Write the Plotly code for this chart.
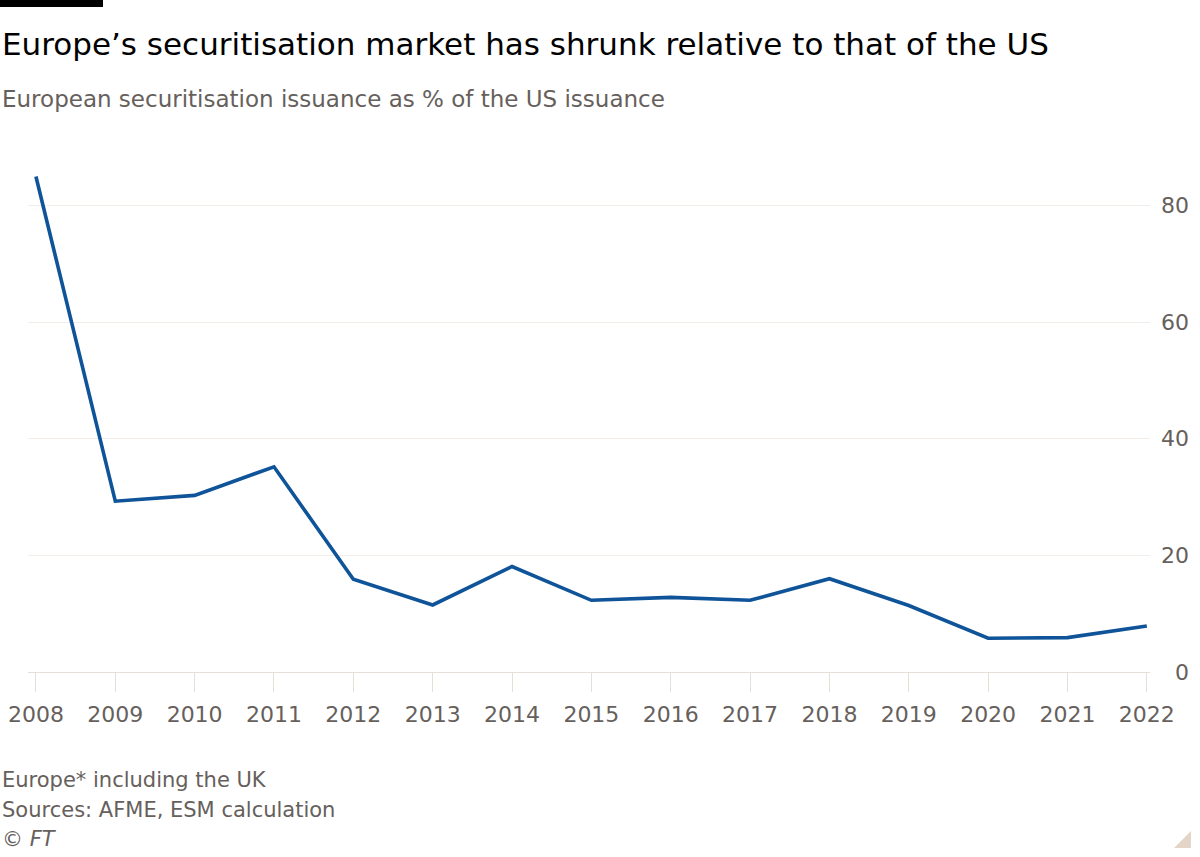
import plotly.graph_objects as go

years = list(range(2008, 2023))
share = [85.0, 29.3, 30.3, 35.2, 15.9, 11.5, 18.1, 12.3, 12.8, 12.3, 16.0, 11.4, 5.8, 5.9, 7.9]
y_ticks = [0, 20, 40, 60, 80]

TITLE = "Europe’s securitisation market has shrunk relative to that of the US"
SUBTITLE = "European securitisation issuance as % of the US issuance"
FOOT = ["Europe* including the UK", "Sources: AFME, ESM calculation"]
CREDIT = "© FT"

W, H = 1200, 857
L, R, T, B = 28, 1150, 159, 672
FONT = "DejaVu Sans"
GREY = "#66605c"
PW, PH = R - L, B - T


def px(x):
    return (x - L) / PW


def py(y):
    return (B - y) / PH


fig = go.Figure()
fig.add_trace(go.Scatter(x=years, y=share, mode="lines",
                         line=dict(color="#0f5499", width=3.6),
                         hoverinfo="skip", showlegend=False))

ann = []
ann.append(dict(text=TITLE, x=px(0), y=py(44), xref="paper", yref="paper",
                xanchor="left", yanchor="middle", showarrow=False,
                font=dict(family=FONT, size=31, color="#000000")))
ann.append(dict(text=SUBTITLE, x=px(0), y=py(99), xref="paper", yref="paper",
                xanchor="left", yanchor="middle", showarrow=False,
                font=dict(family=FONT, size=23, color=GREY)))
for i, t in enumerate(FOOT):
    ann.append(dict(text=t, x=px(0), y=py(780 + 29.5 * i), xref="paper", yref="paper",
                    xanchor="left", yanchor="middle", showarrow=False,
                    font=dict(family=FONT, size=21, color=GREY)))
ann.append(dict(text="<i>" + CREDIT + "</i>", x=px(0), y=py(839), xref="paper", yref="paper",
                xanchor="left", yanchor="middle", showarrow=False,
                font=dict(family=FONT, size=21, color=GREY)))
for v in y_ticks:
    ann.append(dict(text=str(v), x=px(1191), y=v, xref="paper", yref="y",
                    xanchor="right", yanchor="middle", showarrow=False,
                    font=dict(family=FONT, size=22, color=GREY)))

shapes = [
    dict(type="rect", xref="paper", yref="paper", x0=px(0), x1=px(103), y0=py(0), y1=py(7),
         fillcolor="#000000", line=dict(width=0), layer="above"),
    dict(type="path", xref="paper", yref="paper",
         path=f"M {px(1191)} {py(831)} L {px(1191)} {py(848)} L {px(1174)} {py(848)} Z",
         fillcolor="#e3d6c8", line=dict(width=0)),
]

fig.update_layout(
    width=W, height=H,
    margin=dict(l=L, r=W - R, t=T, b=H - B, pad=0, autoexpand=False),
    paper_bgcolor="#ffffff", plot_bgcolor="#ffffff",
    font=dict(family=FONT, color=GREY),
    annotations=ann, shapes=shapes,
    xaxis=dict(range=[2007.9, 2022.04], tickmode="array", tickvals=years,
               ticktext=[str(y) for y in years], ticks="outside", ticklen=19,
               tickcolor="#e6dfd8", tickwidth=1, showgrid=False, zeroline=False,
               showline=True, linecolor="#e6dfd8", linewidth=1,
               ticklabelstandoff=4, automargin=False,
               tickfont=dict(family=FONT, size=22, color=GREY), fixedrange=True),
    yaxis=dict(range=[0, 88], tickvals=y_ticks, showticklabels=False,
               showgrid=True, gridcolor="#f2ede8", gridwidth=1, zeroline=False,
               showline=False, automargin=False, fixedrange=True),
)

fig.write_html("out.html")
